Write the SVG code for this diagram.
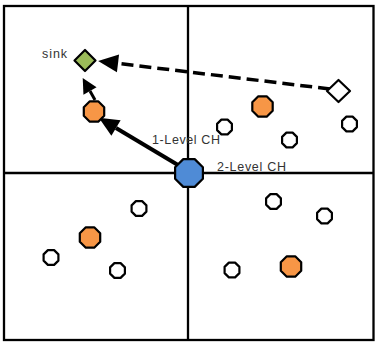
<svg xmlns="http://www.w3.org/2000/svg" xmlns:xlink="http://www.w3.org/1999/xlink" width="376" height="342" viewBox="0 0 376 342">
<style>
.frame{fill:none;stroke:#000;stroke-width:2.3}
.node{stroke:#000;stroke-width:2.2;stroke-linejoin:round}
.white{fill:#fff}
.orange{fill:#f79646}
.blue{fill:#4f8bd6}
.green{fill:#9bbb59}
.lbl{font-family:"Liberation Sans",Arial,sans-serif;font-size:12.5px;fill:#333}
.conn{stroke:#000;fill:none}
</style>
<defs>
<polygon id="sm" points="7.4,3.1 3.1,7.4 -3.1,7.4 -7.4,3.1 -7.4,-3.1 -3.1,-7.4 3.1,-7.4 7.4,-3.1"/>
<polygon id="md" points="10.2,4.2 4.2,10.2 -4.2,10.2 -10.2,4.2 -10.2,-4.2 -4.2,-10.2 4.2,-10.2 10.2,-4.2"/>
<polygon id="lg" points="13.9,5.7 5.7,13.9 -5.7,13.9 -13.9,5.7 -13.9,-5.7 -5.7,-13.9 5.7,-13.9 13.9,-5.7"/>
<marker id="ahL" markerUnits="userSpaceOnUse" markerWidth="22" markerHeight="20" refX="0" refY="9" orient="auto" overflow="visible">
<path d="M0,0 L20,9 L0,18 z" fill="#000"/>
</marker>
<marker id="ahS" markerUnits="userSpaceOnUse" markerWidth="16" markerHeight="16" refX="0" refY="7.5" orient="auto" overflow="visible">
<path d="M0,0 L15,7.5 L0,15 z" fill="#000"/>
</marker>
</defs>
<rect x="4" y="6" width="369.5" height="334" fill="#fff"/>
<g id="frame">
<rect class="frame" x="4" y="6" width="369.5" height="334"/>
<line class="frame" x1="188" y1="6" x2="188" y2="340"/>
<line class="frame" x1="4" y1="173" x2="373.5" y2="173"/>
</g>
<g id="connectors">
<line class="conn" x1="183" y1="168" x2="116" y2="128" stroke-width="4" marker-end="url(#ahL)"/>
<line class="conn" x1="95" y1="100" x2="90" y2="91" stroke-width="3" marker-end="url(#ahS)"/>
<line class="conn" x1="330" y1="89" x2="118" y2="63.4" stroke-width="3.5" stroke-dasharray="12,6" marker-end="url(#ahL)"/>
</g>
<g id="sink">
<polygon class="node green" points="85,50 95.5,60.5 85,71 74.5,60.5"/>
<text class="lbl" x="42" y="58" textLength="25">sink</text>
</g>
<g id="source"><polygon class="node white" points="338.5,80 350,91 338.5,102 327,91"/></g>
<g id="ch2">
<use href="#lg" class="node blue" x="189" y="173"/>
<text class="lbl" x="217" y="170.5" textLength="69">2-Level CH</text>
</g>
<g id="ch1a">
<use href="#md" class="node orange" x="94" y="111.5"/>
<text class="lbl" x="152" y="143.5" textLength="68">1-Level CH</text>
</g>
<g id="ch1b"><use href="#md" class="node orange" x="262.5" y="106.5"/></g>
<g id="ch1c"><use href="#md" class="node orange" x="90" y="237.5"/></g>
<g id="ch1d"><use href="#md" class="node orange" x="291" y="266.5"/></g>
<g id="n1"><use href="#sm" class="node white" x="224.5" y="127"/></g>
<g id="n2"><use href="#sm" class="node white" x="289.5" y="140"/></g>
<g id="n3"><use href="#sm" class="node white" x="349.5" y="124"/></g>
<g id="n4"><use href="#sm" class="node white" x="139" y="208.5"/></g>
<g id="n5"><use href="#sm" class="node white" x="51" y="257.5"/></g>
<g id="n6"><use href="#sm" class="node white" x="117.5" y="270.5"/></g>
<g id="n7"><use href="#sm" class="node white" x="273.5" y="201.5"/></g>
<g id="n8"><use href="#sm" class="node white" x="324.5" y="216"/></g>
<g id="n9"><use href="#sm" class="node white" x="232" y="270"/></g>
</svg>
